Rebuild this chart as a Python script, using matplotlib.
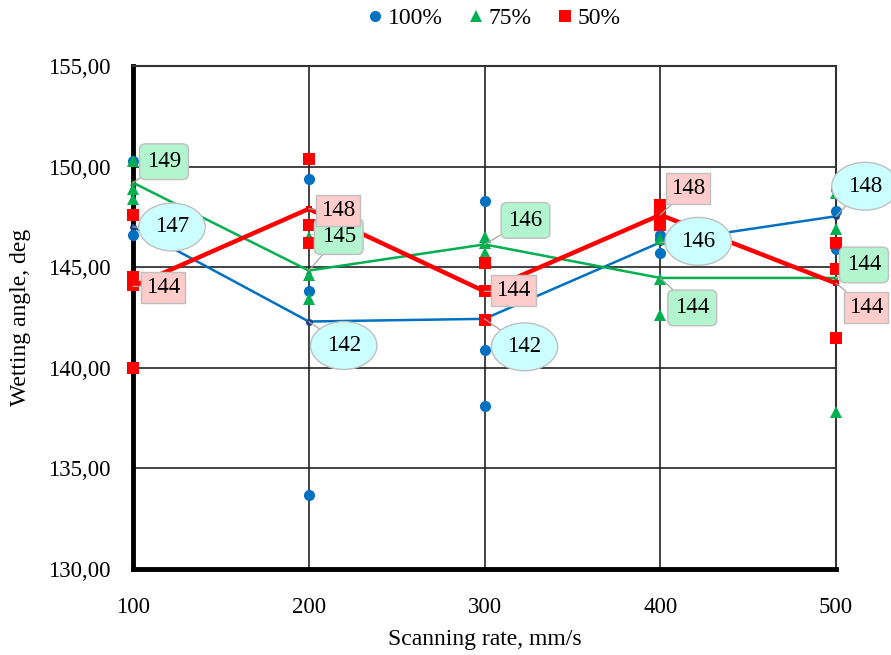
import numpy as np
import matplotlib
matplotlib.use("Agg")
import matplotlib.pyplot as plt
from matplotlib.lines import Line2D

# ---- data ----
rates = [100, 200, 300, 400, 500]
series_names = ["100%", "75%", "50%"]
vals_100 = [[150.3, 146.6, 144.1], [149.4, 143.8, 133.7], [148.3, 140.9, 138.1],
            [146.6, 146.4, 145.7], [148.9, 147.8, 145.9]]
vals_75 = [[150.3, 148.9, 148.4], [146.5, 144.6, 143.4], [146.5, 146.2, 145.7],
           [146.4, 144.4, 142.6], [148.7, 146.9, 137.8]]
vals_50 = [[147.6, 144.5, 144.1, 140.0], [150.4, 147.1, 146.2], [145.2, 143.8, 142.4],
           [148.1, 147.6, 147.1], [146.2, 144.9, 141.5]]
yticks = [130, 135, 140, 145, 150, 155]
xticks = [100, 200, 300, 400, 500]

# ---- styles ----
colors = ["#0070C0", "#00B050", "#FF0000"]
mean_colors = ["#1F3F7F", "#3A8A3A", "#E00000"]
markers = ["o", "^", "s"]
msizes = [8, 9, 9]
lws = [1.8, 1.8, 3.2]
box_styles = [dict(boxstyle="ellipse,pad=0.28", fc="#CCFFFF", ec="#BFBFBF", lw=1.0),
              dict(boxstyle="round,pad=0.32,rounding_size=0.25", fc="#B3F5CF", ec="#BFBFBF", lw=1.0),
              dict(boxstyle="square,pad=0.22", fc="#FFCCCC", ec="#BFBFBF", lw=1.0)]
# label offsets in pixels (dx right, dy up)
offsets = [
    [(39, 0), (35, -24), (40, -28), (38, 1), (29, 30)],
    [(31, 21), (30, 34), (41, 24), (32, -30), (28, 13)],
    [(30, -1), (29, -2), (29, 1), (28, 26), (30, -24)],
]

plt.rcParams['font.family'] = ['Liberation Serif', 'DejaVu Serif']

fig = plt.figure(figsize=(8.91, 6.55), dpi=100)
ax = fig.add_axes([133/891, 1-569/655, (836-133)/891, (569-66)/655])

all_vals = [vals_100, vals_75, vals_50]
means_all = []
for i, vals in enumerate(all_vals):
    means = [np.mean(v) for v in vals]
    means_all.append(means)
    ax.plot(rates, means, color=colors[i], lw=lws[i], zorder=3, clip_on=False,
            marker=markers[i], markersize=5, markerfacecolor=mean_colors[i],
            markeredgewidth=0)

for i, vals in enumerate(all_vals):
    xs = [r for r, v in zip(rates, vals) for _ in v]
    ys = [y for v in vals for y in v]
    ax.plot(xs, ys, linestyle="none", marker=markers[i], color=colors[i],
            markersize=msizes[i], markeredgewidth=0, zorder=4 + i, clip_on=False)

for i in range(3):
    for j, r in enumerate(rates):
        m = means_all[i][j]
        ax.annotate(f"{m:.0f}", xy=(r, m), xytext=offsets[i][j], textcoords="offset pixels",
                    ha="center", va="center", fontsize=16.5, bbox=box_styles[i],
                    arrowprops=dict(arrowstyle="-", color="#A6A6A6", lw=0.9,
                                    shrinkA=0, shrinkB=0),
                    zorder=10, annotation_clip=False)

ax.set_xlim(100, 500)
ax.set_ylim(130, 155)
ax.set_xticks(xticks)
ax.set_yticks(yticks)
ax.set_yticklabels([f"{t:.2f}".replace(".", ",") for t in yticks])
ax.tick_params(length=0, labelsize=16.5)
ax.tick_params(axis="y", pad=16)
ax.tick_params(axis="x", pad=20)
ax.grid(True, color="#222222", lw=1.2, zorder=1)
ax.set_axisbelow(True)
ax.spines["left"].set_linewidth(3.5)
ax.spines["bottom"].set_linewidth(3.5)
ax.spines["top"].set_linewidth(1.5)
ax.spines["right"].set_linewidth(1.5)
ax.spines["top"].set_color("#333333")
ax.spines["right"].set_color("#333333")

ax.set_xlabel("Scanning rate, mm/s", fontsize=17, labelpad=8)
ax.set_ylabel("Wetting angle, deg", fontsize=17, labelpad=12)

handles = [Line2D([], [], linestyle="none", marker=markers[i], color=colors[i],
                  markersize=msizes[i], markeredgewidth=0) for i in range(3)]
fig.legend(handles, series_names, loc="center", bbox_to_anchor=(492/891, 1-18/655),
           ncol=3, frameon=False, handletextpad=0.05, columnspacing=0.9,
           prop={"family": ["Liberation Serif", "DejaVu Serif"], "size": 17}, handlelength=1.0)

fig.savefig("out.png", dpi=100)
